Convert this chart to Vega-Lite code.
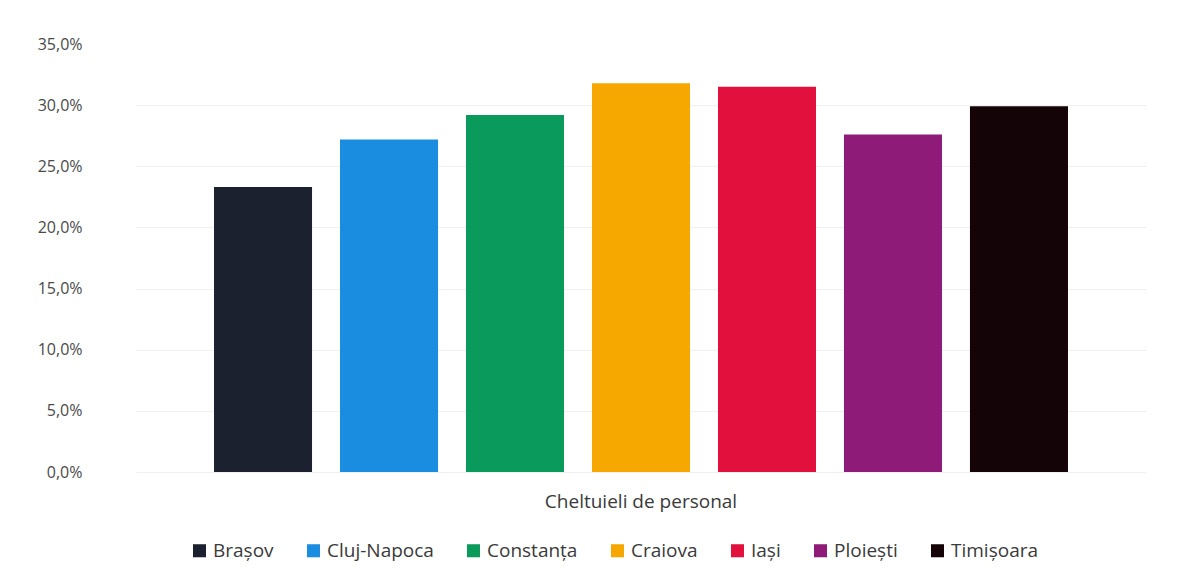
{
  "$schema": "https://vega.github.io/schema/vega-lite/v6.json",
  "width": 1010,
  "height": 428,
  "autosize": {"type": "none"},
  "padding": {"left": 136, "top": 44, "right": 46, "bottom": 97},
  "background": "white",
  "data": {
    "values": [
      {"categorie": "Cheltuieli de personal", "oras": "Brașov", "valoare": 0.233},
      {"categorie": "Cheltuieli de personal", "oras": "Cluj-Napoca", "valoare": 0.272},
      {"categorie": "Cheltuieli de personal", "oras": "Constanța", "valoare": 0.292},
      {"categorie": "Cheltuieli de personal", "oras": "Craiova", "valoare": 0.318},
      {"categorie": "Cheltuieli de personal", "oras": "Iași", "valoare": 0.315},
      {"categorie": "Cheltuieli de personal", "oras": "Ploiești", "valoare": 0.276},
      {"categorie": "Cheltuieli de personal", "oras": "Timișoara", "valoare": 0.299}
    ]
  },
  "mark": {"type": "bar"},
  "encoding": {
    "x": {
      "field": "categorie",
      "type": "nominal",
      "scale": {"paddingInner": 0, "paddingOuter": 0.0726},
      "axis": {"title": null, "labelAngle": 0, "ticks": false, "domain": false, "labelPadding": 20, "labelFontSize": 19, "labelLimit": 500, "labelColor": "#3a3a3a", "labelFont": "Open Sans"}
    },
    "xOffset": {
      "field": "oras",
      "type": "nominal",
      "sort": ["Brașov", "Cluj-Napoca", "Constanța", "Craiova", "Iași", "Ploiești", "Timișoara"],
      "scale": {"paddingInner": 0.222, "paddingOuter": 0.111}
    },
    "y": {
      "field": "valoare",
      "type": "quantitative",
      "scale": {"domain": [0, 0.35], "nice": false},
      "axis": {
        "title": null,
        "values": [0, 0.05, 0.1, 0.15, 0.2, 0.25, 0.3, 0.35],
        "labelExpr": "replace(format(datum.value, '.1%'), '.', ',')",
        "ticks": false,
        "domain": false,
        "labelPadding": 54,
        "labelFontSize": 16,
        "labelColor": "#4a4a4a",
        "labelFont": "Open Sans",
        "gridColor": {"condition": {"test": "datum.value >= 0.35", "value": "#ffffff"}, "value": "#f0f0f0"},
        "gridWidth": 1
      }
    },
    "color": {
      "field": "oras",
      "type": "nominal",
      "sort": ["Brașov", "Cluj-Napoca", "Constanța", "Craiova", "Iași", "Ploiești", "Timișoara"],
      "scale": {
        "domain": ["Brașov", "Cluj-Napoca", "Constanța", "Craiova", "Iași", "Ploiești", "Timișoara"],
        "range": ["#1c2130", "#1a8de0", "#0a9a5c", "#f6a800", "#e2103c", "#8e1b78", "#140408"]
      },
      "legend": {
        "title": null,
        "orient": "none",
        "legendX": 54,
        "legendY": 497,
        "direction": "horizontal",
        "symbolType": "square",
        "symbolSize": 170,
        "symbolStrokeWidth": 0,
        "labelFontSize": 19,
        "labelFont": "Open Sans",
        "labelColor": "#3a3a3a",
        "labelOffset": 4,
        "columnPadding": 30
      }
    }
  },
  "config": {
    "view": {"stroke": null}
  }
}
